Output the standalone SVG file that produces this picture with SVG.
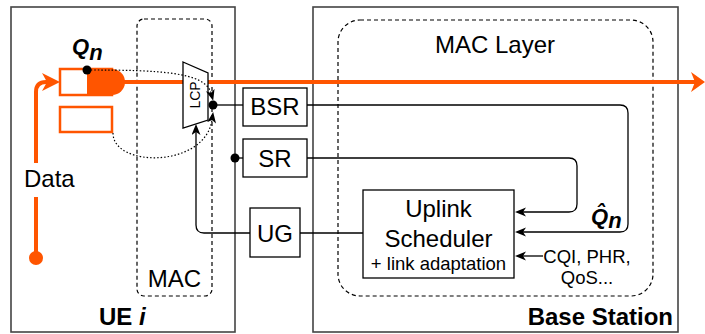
<svg xmlns="http://www.w3.org/2000/svg" width="705" height="334" viewBox="0 0 705 334">
<style>
text{font-family:"Liberation Sans",Arial,sans-serif;fill:#000}
.t24{font-size:24px}
.t18{font-size:18.5px}
.b{font-weight:bold}
.bi{font-weight:bold;font-style:italic;font-size:22px}
.outer{fill:none;stroke:#444;stroke-width:1.6}
.dash{fill:none;stroke:#000;stroke-width:1.2;stroke-dasharray:4 3}
.box{fill:#fff;stroke:#000;stroke-width:1.3}
.conn{fill:none;stroke:#000;stroke-width:1.3}
.dot{fill:none;stroke:#000;stroke-width:1.2;stroke-dasharray:1.5 2}
.or{fill:none;stroke:#FF5500;stroke-width:4}
.q{fill:#fff;stroke:#FF5500;stroke-width:2.5}
</style>
<defs>
<marker id="ab" markerUnits="userSpaceOnUse" markerWidth="12" markerHeight="10" refX="3" refY="4.5" orient="auto">
<path d="M0,0 L11,4.5 L0,9 L3,4.5 Z" fill="#000"/>
</marker>
<marker id="ao1" markerUnits="userSpaceOnUse" markerWidth="20" markerHeight="20" refX="5" refY="9" orient="auto">
<path d="M0,0 L18,9 L0,18 L5,9 Z" fill="#FF5500"/>
</marker>
<marker id="ao2" markerUnits="userSpaceOnUse" markerWidth="16" markerHeight="22" refX="4" refY="10" orient="auto">
<path d="M0,0 L14,10 L0,20 L4,10 Z" fill="#FF5500"/>
</marker>
</defs>
<rect width="705" height="334" fill="#fff"/>

<g id="ue">
<rect class="outer" x="11" y="7" width="224" height="325"/>
<text class="t24 b" x="99" y="325">UE <tspan font-style="italic">i</tspan></text>
</g>
<g id="base-station">
<rect class="outer" x="313" y="7" width="365" height="325"/>
<text class="t24 b" x="673" y="325" text-anchor="end">Base Station</text>
</g>
<g id="ue-mac">
<rect class="dash" x="137" y="19" width="75" height="277" rx="7"/>
<text class="t24" x="174.5" y="287" text-anchor="middle">MAC</text>
</g>
<g id="mac-layer">
<rect class="dash" x="338" y="20" width="315" height="276" rx="22"/>
<text class="t24" x="495" y="53" text-anchor="middle">MAC Layer</text>
</g>

<g id="connectors">
<path class="or" d="M118,82 H695" marker-end="url(#ao2)"/>
<path class="or" d="M36,258 V92 Q36,82 46,82 H47" marker-end="url(#ao1)"/>
<path class="conn" d="M307,105 H620 Q628,105 628,113 V224 Q628,232 620,232 H523" marker-end="url(#ab)"/>
<path class="conn" d="M307,158 H569 Q577,158 577,166 V204 Q577,212 569,212 H523" marker-end="url(#ab)"/>
<path class="conn" d="M243,105 H213"/>
<path class="conn" d="M235,158 H243"/>
<path class="conn" d="M250,233 H204 Q196,233 196,225 V132" marker-end="url(#ab)"/>
<path class="conn" d="M300,233 H363"/>
<path class="conn" d="M543,256 H523" marker-end="url(#ab)"/>
</g>

<g id="queue">
<rect class="q" x="60" y="69" width="52" height="26"/>
<path d="M87,69 H112 A9,9 0 0 1 112,95 H87 Z" fill="#FF5500"/>
<rect class="q" x="60" y="107" width="52" height="25"/>
<text class="bi" x="72" y="54">Q<tspan dy="6">n</tspan></text>
</g>

<g id="lcp">
<polygon points="183,62 208,73 208,120 183,128" fill="#fff" stroke="#000" stroke-width="1.3"/>
<text font-size="14" transform="translate(200,95) rotate(-90)" text-anchor="middle">LCP</text>
</g>

<g id="feedback">
<path class="dot" d="M87,70 C160,70 205,72 211,93" marker-end="url(#ab)"/>
<path class="dot" d="M113,133 C113,168 205,168 212,120" marker-end="url(#ab)"/>
<circle cx="87" cy="70" r="4.5" fill="#000"/>
<circle cx="213" cy="105" r="4.5" fill="#000"/>
<circle cx="235" cy="158" r="4.5" fill="#000"/>
</g>

<g id="data">
<circle cx="36" cy="258" r="7" fill="#FF5500"/>
<rect x="28" y="163" width="16" height="34" fill="#fff"/>
<text class="t24" x="24" y="187">Data</text>
</g>

<g id="bsr">
<rect class="box" x="243" y="88" width="64" height="38"/>
<text class="t24" x="275" y="115" text-anchor="middle">BSR</text>
</g>
<g id="sr">
<rect class="box" x="243" y="139" width="64" height="38"/>
<text class="t24" x="275" y="167" text-anchor="middle">SR</text>
</g>
<g id="ug">
<rect class="box" x="250" y="208" width="50" height="49"/>
<text class="t24" x="275" y="242" text-anchor="middle">UG</text>
</g>
<g id="scheduler">
<rect class="box" x="363" y="190" width="151" height="88"/>
<text class="t24" x="438.5" y="217" text-anchor="middle">Uplink</text>
<text class="t24" x="438.5" y="247" text-anchor="middle">Scheduler</text>
<text class="t18" x="438.5" y="270" text-anchor="middle">+ link adaptation</text>
</g>
<g id="qhat">
<text class="bi" x="591" y="224">Q̂<tspan dy="4">n</tspan></text>
</g>
<g id="inputs">
<text class="t18" x="587" y="263" text-anchor="middle">CQI, PHR,</text>
<text class="t18" x="587" y="284" text-anchor="middle">QoS...</text>
</g>
</svg>
